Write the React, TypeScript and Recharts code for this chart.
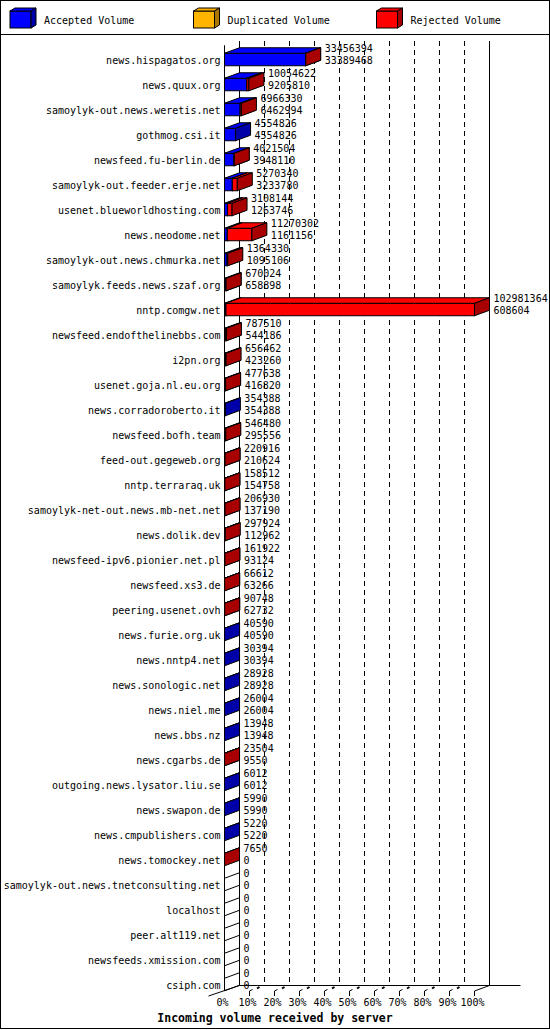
import { BarChart, Bar, XAxis, YAxis, CartesianGrid, LabelList } from "recharts";

const SERVERS = [
  "news.hispagatos.org",
  "news.quux.org",
  "samoylyk-out.news.weretis.net",
  "gothmog.csi.it",
  "newsfeed.fu-berlin.de",
  "samoylyk-out.feeder.erje.net",
  "usenet.blueworldhosting.com",
  "news.neodome.net",
  "samoylyk-out.news.chmurka.net",
  "samoylyk.feeds.news.szaf.org",
  "nntp.comgw.net",
  "newsfeed.endofthelinebbs.com",
  "i2pn.org",
  "usenet.goja.nl.eu.org",
  "news.corradoroberto.it",
  "newsfeed.bofh.team",
  "feed-out.gegeweb.org",
  "nntp.terraraq.uk",
  "samoylyk-net-out.news.mb-net.net",
  "news.dolik.dev",
  "newsfeed-ipv6.pionier.net.pl",
  "newsfeed.xs3.de",
  "peering.usenet.ovh",
  "news.furie.org.uk",
  "news.nntp4.net",
  "news.sonologic.net",
  "news.niel.me",
  "news.bbs.nz",
  "news.cgarbs.de",
  "outgoing.news.lysator.liu.se",
  "news.swapon.de",
  "news.cmpublishers.com",
  "news.tomockey.net",
  "samoylyk-out.news.tnetconsulting.net",
  "localhost",
  "peer.alt119.net",
  "newsfeeds.xmission.com",
  "csiph.com",
];

// total incoming volume (upper number next to each bar)
const TOTAL_VOLUME = [
  33456394, 10054622, 6966330, 4554826, 4021504, 5270340, 3108144, 11270302,
  1364330, 670024, 102981364, 787510, 656462, 477638, 354388, 546480, 220916,
  158512, 206930, 297924, 161922, 66612, 90748, 40590, 30394, 28928, 26004,
  13948, 23504, 6012, 5990, 5220, 7650, 0, 0, 0, 0, 0,
];

// accepted volume (lower number)
const ACCEPTED_VOLUME = [
  33389468, 9205810, 6462994, 4554826, 3948110, 3233780, 1263746, 1161156,
  1095106, 658898, 608604, 544186, 423260, 416820, 354388, 295556, 210624,
  154758, 137190, 112962, 93124, 63266, 62732, 40590, 30394, 28928, 26004,
  13948, 9550, 6012, 5990, 5220, 0, 0, 0, 0, 0, 0,
];

const DUPLICATED_VOLUME = [
  0, 0, 0, 0, 0, 0, 0, 0, 0, 0, 0, 0, 0, 0, 0, 0, 0, 0, 0, 0, 0, 0, 0, 0, 0,
  0, 0, 0, 0, 0, 0, 0, 0, 0, 0, 0, 0, 0,
];

const PCT_TICKS = [0, 10, 20, 30, 40, 50, 60, 70, 80, 90, 100];

const SERIES = [
  { key: "accepted", name: "Accepted Volume", front: "#0000ff", side: "#0000a8" },
  { key: "duplicated", name: "Duplicated Volume", front: "#ffb400", side: "#a87800" },
  { key: "rejected", name: "Rejected Volume", front: "#ff0000", side: "#a80000" },
];

const data = SERVERS.map((name, i) => ({
  name,
  total: TOTAL_VOLUME[i],
  accepted: ACCEPTED_VOLUME[i],
  duplicated: DUPLICATED_VOLUME[i],
  rejected: TOTAL_VOLUME[i] - ACCEPTED_VOLUME[i] - DUPLICATED_VOLUME[i],
}));

const MAX = Math.max(...TOTAL_VOLUME);
const X_TICKS = PCT_TICKS.map((p) => (MAX * p) / 100);

const FONT = "'DejaVu Sans Mono', monospace";
const W = 550;
const H = 1030;
const LEFT = 224.5;
const PLOT_W = 250;
const TOP = 47.25;
const BAND = 25;
const BAR_H = 12.5;
const DX = 15;
const DY = 5.5;
const X_AXIS_H = H - TOP - SERVERS.length * BAND;

const makeBox = (key: string, front: string, side: string) => (p: any) => {
  const { x, y, width: w, height: h, payload } = p;
  if (!payload || !(payload[key] > 0)) {
    if (key === "accepted" && payload && payload.total === 0) {
      return (
        <g stroke="#000">
          <line x1={x} y1={y} x2={x + DX} y2={y - DY} />
          <line x1={x} y1={y + h} x2={x + DX} y2={y + h - DY} />
        </g>
      );
    }
    return <g />;
  }
  return (
    <g stroke="#000" strokeWidth={1}>
      <rect x={x} y={y} width={w} height={h} fill={front} />
      <polygon
        points={`${x},${y} ${x + DX},${y - DY} ${x + w + DX},${y - DY} ${x + w},${y}`}
        fill={front}
      />
      <polygon
        points={`${x + w},${y} ${x + w + DX},${y - DY} ${x + w + DX},${y + h - DY} ${x + w},${y + h}`}
        fill={side}
      />
    </g>
  );
};

const valueLabel = (lift: number) => (p: any) => {
  const vb = p.viewBox ?? p;
  const x = vb.x + vb.width + 19;
  const cy = vb.y + vb.height / 2;
  return (
    <text x={x} y={cy + lift} fontFamily={FONT} fontSize={10} fill="#000">
      {p.value}
    </text>
  );
};

const YTick = (p: any) => (
  <text
    x={p.x - 4}
    y={p.y + 4}
    textAnchor="end"
    fontFamily={FONT}
    fontSize={10}
    fill="#000"
  >
    {p.payload.value}
  </text>
);

const XTick = (p: any) => {
  const { x, y, index } = p;
  const ff = y - BAR_H / 2;
  const last = PCT_TICKS.length - 1;
  const mid = index > 0 && index < last;
  return (
    <g>
      {index > 0 && <line x1={x} y1={ff} x2={x} y2={ff + 5} stroke="#000" />}
      {mid && (
        <>
          <line x1={x} y1={ff} x2={x + 3} y2={ff - 1.5} stroke="#000" />
          <line x1={x + 7.5} y1={ff - 2.5} x2={x + 10} y2={ff - 4} stroke="#000" strokeWidth={2} />
        </>
      )}
      <text x={x - 2} y={ff + 15} textAnchor="middle" fontFamily={FONT} fontSize={10} fill="#000">
        {PCT_TICKS[index]}%
      </text>
    </g>
  );
};

const gridLine = (p: any) => {
  const { x1, y1, y2 } = p;
  const i = typeof p.index === "number" ? p.index : Math.round((x1 - LEFT) / (PLOT_W / 10));
  const bx = x1 + DX;
  const backTop = y1 - BAR_H / 2;
  const floorFront = y2 - BAR_H / 2;
  const floorBack = floorFront - DY;
  if (i === 0) {
    return (
      <g key={p.key} stroke="#000">
        <line x1={x1} y1={y1 - 2} x2={x1} y2={floorFront} />
        <line x1={bx} y1={backTop} x2={bx} y2={floorBack} />
        <line x1={x1 - 16} y1={floorFront + 5} x2={bx} y2={floorBack} />
      </g>
    );
  }
  if (i === PCT_TICKS.length - 1) {
    return (
      <g key={p.key} stroke="#000">
        <line x1={bx} y1={backTop} x2={bx} y2={floorBack} />
        <line x1={x1} y1={floorFront} x2={bx} y2={floorBack} />
        <line x1={LEFT + DX} y1={floorBack} x2={bx + 31} y2={floorBack} />
      </g>
    );
  }
  return (
    <line
      key={p.key}
      x1={bx}
      y1={backTop}
      x2={bx}
      y2={floorBack}
      stroke="#000"
      strokeDasharray="5 4"
    />
  );
};

const LEGEND_X = [10, 193.5, 376.5];

function Overlay() {
  return (
    <svg
      width={W}
      height={H}
      style={{ position: "absolute", left: 0, top: 0, pointerEvents: "none" }}
    >
      <rect x={0.5} y={0.5} width={W - 1} height={H - 2} fill="none" stroke="#000" />
      <line x1={0} y1={34.5} x2={W} y2={34.5} stroke="#000" />
      {SERIES.map((s, i) => {
        const x = LEGEND_X[i];
        const y = 11;
        const w = 21;
        const h = 17;
        return (
          <g key={s.key}>
            <g stroke="#000">
              <rect x={x} y={y} width={w} height={h} fill={s.front} />
              <polygon points={`${x},${y} ${x + 5},${y - 3} ${x + w + 5},${y - 3} ${x + w},${y}`} fill={s.front} />
              <polygon
                points={`${x + w},${y} ${x + w + 5},${y - 3} ${x + w + 5},${y + h - 3} ${x + w},${y + h}`}
                fill={s.side}
              />
            </g>
            <text x={x + 34} y={24} fontFamily={FONT} fontSize={10} fill="#000">
              {s.name}
            </text>
          </g>
        );
      })}
      <text
        x={275}
        y={1021.5}
        textAnchor="middle"
        fontFamily={FONT}
        fontWeight="bold"
        fontSize={11.5}
        fill="#000"
      >
        Incoming volume received by server
      </text>
    </svg>
  );
}

export default function App() {
  return (
    <div style={{ position: "absolute", left: 0, top: 0, width: W, height: H, background: "#fff" }}>
      <BarChart
        width={W}
        height={H}
        data={data}
        layout="vertical"
        margin={{ top: TOP, right: W - LEFT - PLOT_W, left: 0, bottom: 0 }}
        style={{ fontFamily: FONT }}
      >
        <CartesianGrid horizontal={false} vertical={gridLine} />
        <XAxis
          type="number"
          domain={[0, MAX]}
          ticks={X_TICKS}
          interval={0}
          height={X_AXIS_H}
          axisLine={false}
          tickLine={false}
          tickSize={0}
          tickMargin={0}
          tick={XTick}
        />
        <YAxis
          type="category"
          dataKey="name"
          width={LEFT}
          interval={0}
          axisLine={false}
          tickLine={false}
          tickSize={0}
          tickMargin={0}
          tick={YTick}
        />
        {SERIES.map((s, i) => (
          <Bar
            key={s.key}
            dataKey={s.key}
            name={s.name}
            stackId="volume"
            barSize={BAR_H}
            fill={s.front}
            shape={makeBox(s.key, s.front, s.side)}
            isAnimationActive={false}
          >
            {i === SERIES.length - 1 && (
              <LabelList dataKey="total" content={valueLabel(-7.4)} />
            )}
            {i === SERIES.length - 1 && (
              <LabelList dataKey="accepted" content={valueLabel(4.1)} />
            )}
          </Bar>
        ))}
      </BarChart>
      <Overlay />
    </div>
  );
}
